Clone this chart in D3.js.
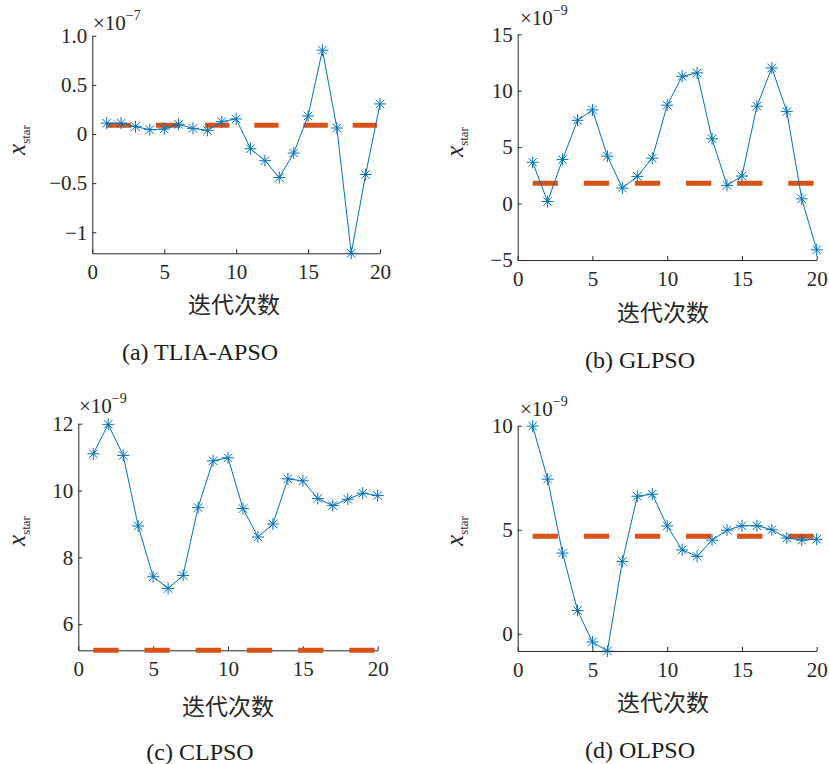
<!DOCTYPE html>
<html>
<head>
<meta charset="utf-8">
<script src="https://cdn.jsdelivr.net/npm/d3@7"></script>
<style>
  body { margin: 0; background: #fff; }
  svg { display: block; }
</style>
</head>
<body>
<script>
var W = 829, H = 764;

// iteration index (x)
var iterations = [1, 2, 3, 4, 5, 6, 7, 8, 9, 10, 11, 12, 13, 14, 15, 16, 17, 18, 19, 20];

// x_star per iteration, one array per algorithm
var tliaApso = [0.11, 0.11, 0.075, 0.044, 0.05, 0.098, 0.057, 0.037, 0.125, 0.153,
                -0.15, -0.272, -0.443, -0.194, 0.184, 0.853, 0.061, -1.214, -0.412, 0.306];
var glpso = [3.66, 0.18, 3.9, 7.38, 8.3, 4.2, 1.37, 2.41, 4.02, 8.72,
             11.28, 11.58, 5.74, 1.61, 2.44, 8.63, 12.02, 8.15, 0.42, -4.1];
var clpso = [11.1, 11.98, 11.05, 8.94, 7.42, 7.07, 7.46, 9.49, 10.89, 10.98,
             9.46, 8.61, 9.0, 10.35, 10.29, 9.76, 9.55, 9.74, 9.92, 9.85];
var olpso = [9.98, 7.43, 3.88, 1.12, -0.4, -0.83, 3.48, 6.61, 6.71, 5.18,
             4.03, 3.72, 4.5, 4.98, 5.19, 5.19, 5.0, 4.6, 4.5, 4.54];

// reference (dashed) level per algorithm
var refLevels = [0.088, 1.79, 5.22, 4.68];

var captions = ['(a) TLIA-APSO', '(b) GLPSO', '(c) CLPSO', '(d) OLPSO'];
var exponents = ['\u22127', '\u22129', '\u22129', '\u22129'];

var xTicks = [0, 5, 10, 15, 20];
var yDomains = [[-1.214, 1.0], [-5, 15], [5.22, 12], [-0.83, 10]];
var yTicks = [[-1, -0.5, 0, 0.5, 1], [-5, 0, 5, 10, 15], [6, 8, 10, 12], [0, 5, 10]];
var yTickLabels = [['\u22121', '\u22120.5', '0', '0.5', '1.0'],
                   ['\u22125', '0', '5', '10', '15'],
                   ['6', '8', '10', '12'],
                   ['0', '5', '10']];

var series = [tliaApso, glpso, clpso, olpso];

// placement of each panel
var layout = [
  { l: 92.3,  r: 380,   t: 35.7,  b: 253.3, ylx: 25,  yly: 140, exx: 93,  exy: 30,    xlx: 234, xly: 313, cx: 200, cy: 360 },
  { l: 517.7, r: 816.7, t: 34.3,  b: 260,   ylx: 463, yly: 142, exx: 520, exy: 25,    xlx: 663, xly: 321, cx: 640, cy: 368 },
  { l: 78.3,  r: 377.7, t: 423.7, b: 650.3, ylx: 25,  yly: 531, exx: 79,  exy: 412.7, xlx: 228, xly: 715, cx: 200, cy: 760 },
  { l: 517.7, r: 816.7, t: 425.7, b: 651,   ylx: 463, yly: 531, exx: 520, exy: 416,   xlx: 663, xly: 711, cx: 640, cy: 758 }
];

var blue = '#0072BD', red = '#D95319', ink = '#262626';
var serif = '"Liberation Serif", "Times New Roman", serif';

var svg = d3.select('body').append('svg').attr('width', W).attr('height', H);

var styleAxis = function (sel) {
  sel.attr('font-family', serif).attr('font-size', 21);
  sel.select('.domain').attr('stroke', ink);
  sel.selectAll('.tick line').attr('stroke', ink);
  sel.selectAll('.tick text').attr('fill', ink);
};

layout.forEach(function (p, k) {
  var x = d3.scaleLinear().domain([0, 20]).range([p.l, p.r]);
  var y = d3.scaleLinear().domain(yDomains[k]).range([p.b, p.t]);
  var g = svg.append('g');

  g.append('g')
    .attr('transform', 'translate(0,' + p.b + ')')
    .call(d3.axisBottom(x).tickValues(xTicks).tickSizeInner(-4).tickSizeOuter(0).tickPadding(11))
    .call(styleAxis);

  g.append('g')
    .attr('transform', 'translate(' + p.l + ',0)')
    .call(d3.axisLeft(y).tickValues(yTicks[k]).tickSizeInner(-4).tickSizeOuter(0).tickPadding(5)
      .tickFormat(function (d, i) { return yTickLabels[k][i]; }))
    .call(styleAxis);

  // exponent
  var ex = g.append('text').attr('x', p.exx).attr('y', p.exy)
    .attr('font-family', serif).attr('font-size', 21).attr('fill', ink);
  ex.append('tspan').text('\u00d710');
  ex.append('tspan').attr('font-size', 14).attr('dy', -10).text(exponents[k]);

  // y label
  var yl = g.append('text')
    .attr('transform', 'translate(' + p.ylx + ',' + p.yly + ') rotate(-90)')
    .attr('text-anchor', 'middle').attr('font-family', serif).attr('fill', ink);
  yl.append('tspan').attr('font-size', 25).attr('font-style', 'italic').text('x');
  yl.append('tspan').attr('font-size', 13).attr('dy', 5).text('star');

  // x label
  g.append('text').attr('x', p.xlx).attr('y', p.xly).attr('text-anchor', 'middle')
    .attr('font-family', '"Noto Sans CJK SC", sans-serif').attr('font-size', 23).attr('fill', ink)
    .text('迭代次数');

  // caption
  g.append('text').attr('x', p.cx).attr('y', p.cy).attr('text-anchor', 'middle')
    .attr('font-family', serif).attr('font-size', 24).attr('fill', '#1a1a1a')
    .text(captions[k]);

  // dashed reference level
  var span = x(20) - x(1);
  g.append('line')
    .attr('x1', x(iterations[0])).attr('x2', x(iterations[19]))
    .attr('y1', y(refLevels[k])).attr('y2', y(refLevels[k]))
    .attr('stroke', red).attr('stroke-width', 5)
    .attr('stroke-dasharray', (span * 0.089) + ',' + (span * 0.091));

  // series line
  var pts = iterations.map(function (it, i) { return [x(it), y(series[k][i])]; });
  g.append('path').attr('d', d3.line()(pts))
    .attr('fill', 'none').attr('stroke', blue).attr('stroke-width', 1);

  // asterisk markers
  var s = 6, q = s * 0.7071;
  var star = 'M' + (-s) + ',0H' + s + 'M0,' + (-s) + 'V' + s +
             'M' + (-q) + ',' + (-q) + 'L' + q + ',' + q + 'M' + (-q) + ',' + q + 'L' + q + ',' + (-q);
  g.selectAll('.mk').data(pts).enter().append('path')
    .attr('transform', function (d) { return 'translate(' + d[0] + ',' + d[1] + ')'; })
    .attr('d', star).attr('stroke', blue).attr('stroke-width', 1).attr('fill', 'none');
});
</script>
</body>
</html>
